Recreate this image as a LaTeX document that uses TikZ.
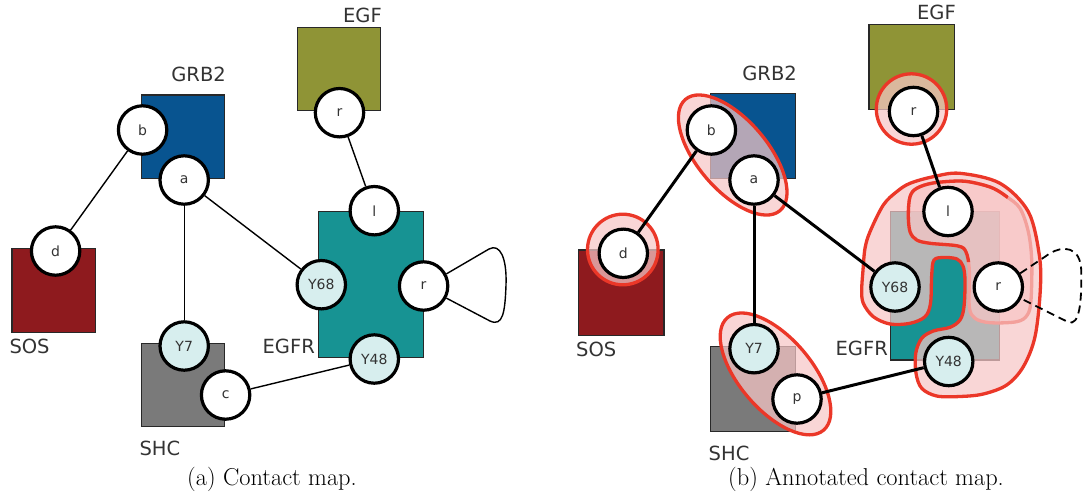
\documentclass[tikz,border=0pt]{standalone}
\usepackage{fontspec}
\newfontfamily\labfont{DejaVu Sans}
\definecolor{grbblue}{RGB}{8,84,144}
\definecolor{egfolive}{RGB}{143,148,54}
\definecolor{egfrteal}{RGB}{23,147,147}
\definecolor{sosred}{RGB}{142,26,30}
\definecolor{shcgray}{RGB}{122,122,122}
\definecolor{sitecyan}{RGB}{215,238,238}
\definecolor{annred}{RGB}{235,55,40}
\definecolor{annpink}{RGB}{247,198,198}
\definecolor{annpale}{RGB}{243,160,155}
\definecolor{txtgray}{RGB}{51,51,51}
\definecolor{boxline}{RGB}{40,40,40}
\begin{document}
\begin{tikzpicture}[x=1pt,y=-1pt,
  agent/.style={draw=boxline, line width=1.1pt},
  site/.style={circle, draw=black, line width=3.2pt, fill=white, minimum size=48.4pt, inner sep=0pt,
    font=\labfont\fontsize{14}{14}\selectfont, text=txtgray},
  ysite/.style={site, fill=sitecyan},
  lab/.style={font=\labfont\fontsize{19.5}{20}\selectfont, text=txtgray, inner sep=0pt},
  captext/.style={font=\fontsize{24.4}{28}\selectfont, inner sep=0pt},
  thinedge/.style={line width=1.4pt},
  thickedge/.style={line width=3pt},
  ann/.style={fill=annpink, fill opacity=0.72, draw=annred, line width=3.3pt},
  annfill/.style={fill=annpink, fill opacity=0.72}
]
\useasboundingbox (0,0) rectangle (1083,501);

% ================= (a) Contact map =================
\draw[agent, fill=grbblue] (141.2,95) rectangle (224.9,178.3);
\draw[agent, fill=egfolive] (297.2,27.7) rectangle (380.5,110.7);
\draw[agent, fill=egfrteal] (318.5,211.7) rectangle (423.6,357.3);
\draw[agent, fill=sosred] (12,248.3) rectangle (95.7,332.7);
\draw[agent, fill=shcgray] (141.2,343.3) rectangle (224.9,426.7);

\node[site] (Lb) at (142.6,130) {b};
\node[site] (La) at (184.2,180) {a};
\node[site] (LrE) at (339.5,112.7) {r};
\node[site] (Ll) at (374.3,210.7) {l};
\node[ysite] (LY68) at (321.3,284.7) {Y68};
\node[site] (Lrr) at (423.6,286) {r};
\node[ysite] (LY48) at (374.3,359) {Y48};
\node[site] (Ld) at (55.6,251) {d};
\node[ysite] (LY7) at (184.2,346) {Y7};
\node[site] (Lc) at (225.6,395) {c};

\draw[thinedge] (Lb) -- (Ld);
\draw[thinedge] (La) -- (LY7);
\draw[thinedge] (La) -- (LY68);
\draw[thinedge] (LrE) -- (Ll);
\draw[thinedge] (Lc) -- (LY48);
\draw[thinedge] (Lrr.28) -- (489,249) .. controls (500,243) and (507,258) .. (506,285)
  .. controls (505,312) and (503,327) .. (490,321) -- (Lrr.-28);

\node[lab, anchor=base east] (LtGRB) at (226,81.7) {GRB2};
\node[lab, anchor=base east] (LtEGF) at (382,22.7) {EGF};
\node[lab, anchor=base west] (LtSOS) at (9.3,353.3) {SOS};
\node[lab, anchor=base east] (LtEGFR) at (315,353.3) {EGFR};
\node[lab, anchor=base west] (LtSHC) at (139.3,455) {SHC};
\node[captext, anchor=base] (capa) at (272,485) {(a) Contact map.};

% ================= (b) Annotated contact map =================
\draw[agent, fill=grbblue] (710.7,93.3) rectangle (795.5,178.3);
\draw[agent, fill=egfolive] (869,24.3) rectangle (954.5,109.3);
\draw[agent, fill=egfrteal] (890.7,211.7) rectangle (999.3,360);
\draw[agent, fill=sosred] (578.8,250) rectangle (664,335.7);
\draw[agent, fill=shcgray] (710.4,346.7) rectangle (795.5,431.7);

% annotations
\draw[ann, rotate around={-49.6:(732.7,155)}] (732.7,155) ellipse [x radius=73, y radius=35];
\draw[ann, rotate around={-49.5:(775.5,373.9)}] (775.5,373.9) ellipse [x radius=74, y radius=36];
\draw[ann] (622.8,249.5) circle [radius=35.3];
\draw[ann] (911.5,109) circle [radius=35.2];
% big EGFR region with notch
\draw[ann] plot[smooth cycle, tension=0.55] coordinates {
 (960,173.3) (1000,183.3) (1028.3,211.7) (1039.3,255) (1040.3,290) (1035,336.7) (1023.3,366.7)
 (1006.7,385) (983.3,394) (960,396.5) (936.7,396) (921.7,388.3) (916,373.3) (915.7,353.3)
 (921.7,338.3) (933.3,331) (950,327.3) (960,320) (964,306.7) (965,280) (963,266) (957,259)
 (944,257.5) (934,260) (931.7,275) (930.5,303.3) (925,316.7) (910,323.3) (890,324) (873.3,316.7)
 (863.3,303.3) (861.7,290) (863,270) (865,248.3) (870,231.7) (883.3,205) (896.7,191.7)
 (910,183.3) (933.3,176.7)};
% region around l and r
\draw[annfill, draw=annpale, draw opacity=1, line width=3.3pt] plot[smooth cycle, tension=0.55] coordinates {
 (910,196.7) (916.7,188.3) (933,183) (960,181) (976.7,183.3) (993.3,188.3) (1006.7,196.7)
 (1020,208.3) (1028.3,231.7) (1031.7,260) (1031,300) (1027.3,315) (1016.7,321.7) (990,322.7)
 (975,318.3) (969.3,306.7) (969.3,270) (966,252) (958,246) (930,243.3) (916.7,240) (910,231.7)
 (908.3,215)};
\begin{scope}
\clip (895,165) -- (1009,165) -- (1009,195) -- (976,262) -- (895,262) -- cycle;
\draw[draw=annred, line width=3.3pt] plot[smooth cycle, tension=0.55] coordinates {
 (910,196.7) (916.7,188.3) (933,183) (960,181) (976.7,183.3) (993.3,188.3) (1006.7,196.7)
 (1020,208.3) (1028.3,231.7) (1031.7,260) (1031,300) (1027.3,315) (1016.7,321.7) (990,322.7)
 (975,318.3) (969.3,306.7) (969.3,270) (966,252) (958,246) (930,243.3) (916.7,240) (910,231.7)
 (908.3,215)};
\end{scope}

\node[site] (Rb) at (711.4,130) {b};
\node[site] (Ra) at (754,180) {a};
\node[site] (RrE) at (913.5,111.5) {r};
\node[site] (Rl) at (948,211.5) {l};
\node[ysite] (RY68) at (895,287) {Y68};
\node[site] (Rrr) at (998.3,287) {r};
\node[ysite] (RY48) at (948.7,361.5) {Y48};
\node[site] (Rd) at (623.3,253.3) {d};
\node[ysite] (RY7) at (754,348.7) {Y7};
\node[site] (Rp) at (797,399) {p};

\draw[thickedge] (Rb) -- (Rd);
\draw[thickedge] (Ra) -- (RY7);
\draw[thickedge] (Ra) -- (RY68);
\draw[thickedge] (RrE) -- (Rl);
\draw[thickedge] (Rp) -- (RY48);
\draw[line width=1.8pt, dash pattern=on 8pt off 5pt] (Rrr.32) -- (1050,253.3)
  .. controls (1062,246) and (1081,245) .. (1081.3,272)
  .. controls (1081.6,300) and (1080,327) .. (1068,322) -- (Rrr.-27);

\node[lab, anchor=base east] (RtGRB) at (797,80) {GRB2};
\node[lab, anchor=base east] (RtEGF) at (956,19.3) {EGF};
\node[lab, anchor=base west] (RtSOS) at (576,356.7) {SOS};
\node[lab, anchor=base east] (RtEGFR) at (888,355.5) {EGFR};
\node[lab, anchor=base west] (RtSHC) at (708.5,460) {SHC};
\node[captext, anchor=base] (capb) at (866,485) {(b) Annotated contact map.};
\end{tikzpicture}
\end{document}
